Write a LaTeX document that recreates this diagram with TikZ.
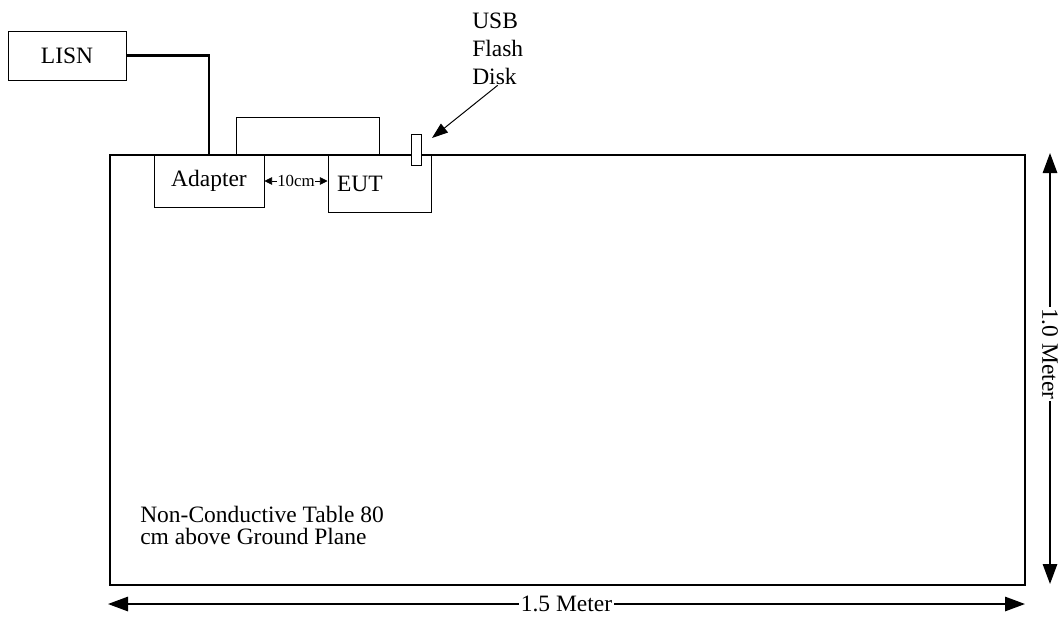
\documentclass[tikz,border=0pt]{standalone}
\usepackage{fontspec}
\setmainfont{Liberation Serif}
\usetikzlibrary{arrows.meta,positioning,calc}
\begin{document}
\begin{tikzpicture}[x=1cm,y=1cm,
 unit/.style={draw,line width=.7pt,inner sep=0pt,font=\fontsize{16.7}{20}\selectfont},
 tablebox/.style={draw,line width=2.1pt,inner sep=0pt},
 cable/.style={line width=2.1pt},
 dim/.style={{Triangle[length=.5cm,width=.36cm]}-{Triangle[length=.5cm,width=.36cm]},line width=1.2pt},
 pointer/.style={-{Triangle[length=.4cm,width=.28cm]},line width=.7pt},
 gap/.style={{Triangle[length=.19cm,width=.19cm]}-{Triangle[length=.19cm,width=.19cm]},line width=.5pt},
 label/.style={align=left,inner sep=0pt,font=\fontsize{16.7}{19.9}\selectfont}]
\useasboundingbox (0,0) rectangle (26.5,-15.525);
\node[unit,minimum width=3.575cm,minimum height=.95cm] (lid) at (7.6875,-3.4) {};
\node[tablebox,minimum width=22.875cm,minimum height=10.75cm] (table) at (14.1875,-9.25) {};
\node[unit,minimum width=2.95cm,minimum height=1.225cm] (lisn) at (1.675,-1.3875) {LISN};
\node[unit,minimum width=2.75cm,minimum height=1.3cm] (adapter) at (5.225,-4.525) {Adapter};
\node[unit,minimum width=2.575cm,minimum height=1.425cm,text width=2.125cm,inner xsep=.225cm,align=left] (eut) at (9.4875,-4.5875) {EUT};
\node[unit,fill=white,minimum width=.25cm,minimum height=.775cm] (stick) at (10.4,-3.7375) {};

\draw[cable] (lisn.east) -| (adapter.north);
\draw[gap] (adapter.east) -- (adapter.east -| eut.west) node[midway,fill=white,inner xsep=.5pt,inner ysep=1pt,font=\fontsize{12}{14}\selectfont] {10cm};

\node[label,anchor=north west] (usb) at (11.8,-.325) {USB\\Flash\\Disk};
\coordinate (tip) at (10.8,-3.45);
\draw[pointer] (usb.south) -- (tip);

\node[label,anchor=north west,font=\fontsize{16.7}{15.5}\selectfont] (note) at (3.5,-12.65) {Non-Conductive Table 80\\cm above Ground Plane};

\coordinate (wl) at (2.7,-15.1);
\coordinate (wr) at (25.625,-15.1);
\draw[dim] (wl) -- (wr) node[midway,fill=white,inner sep=1pt,font=\fontsize{16.7}{20}\selectfont] {1.5 Meter};
\coordinate (ht) at (26.25,-3.825);
\coordinate (hb) at (26.25,-14.6);
\draw[dim] (ht) -- (hb) node[pos=.466,rotate=-90,fill=white,inner sep=1pt,font=\fontsize{16.7}{20}\selectfont] {1.0 Meter};
\end{tikzpicture}
\end{document}
